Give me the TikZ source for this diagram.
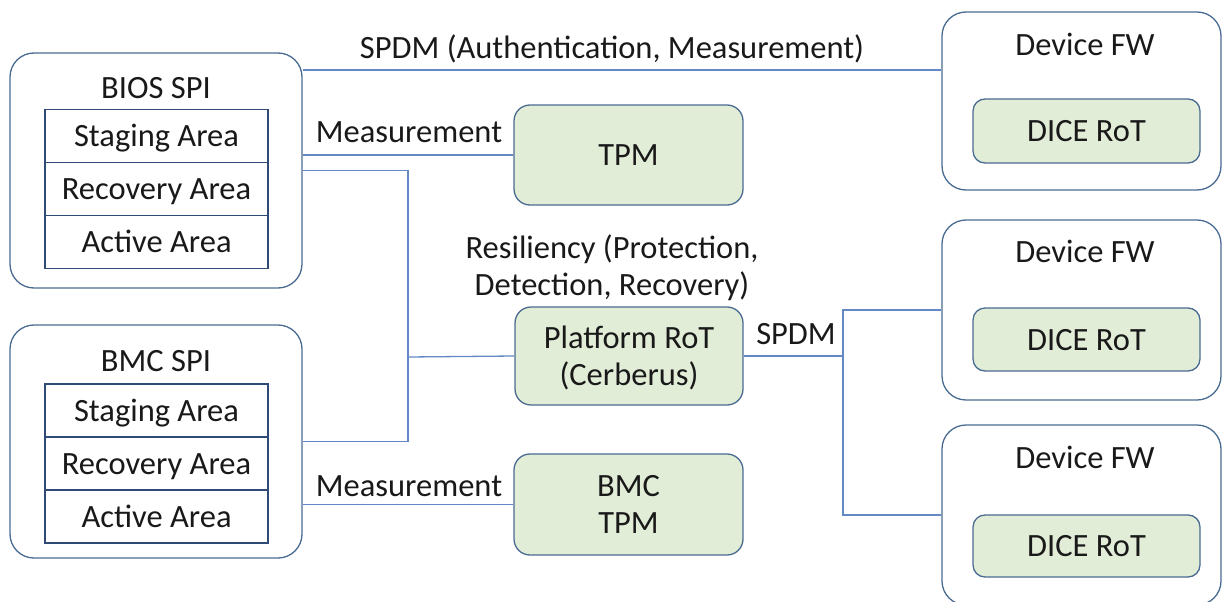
\documentclass[tikz,border=0pt]{standalone}
\usepackage{fontspec}
\setmainfont{Carlito}
\definecolor{boxline}{HTML}{4A6B91}
\definecolor{cellline}{HTML}{2E4A75}
\definecolor{wireblue}{HTML}{6388C4}
\definecolor{rotfill}{HTML}{E2EDD8}

\begin{document}
\begin{tikzpicture}[x=1pt, y=-1pt,
    font=\fontsize{32.5}{37}\selectfont, text=black!90,
    every node/.style={inner sep=0pt, text height=21pt, text depth=0pt},
    twolines/.style={align=center, text height=58pt},
    holder/.style={draw=boxline, line width=1.3pt, rounded corners=24pt},
    rotbox/.style={draw=boxline, fill=rotfill, line width=1.3pt, rounded corners=16pt},
    cell/.style={draw=cellline, line width=1.3pt, minimum width=223pt, minimum height=53pt},
    wire/.style={draw=wireblue, line width=1.3pt}]
    \path[use as bounding box] (0,0) rectangle (1223,602);
    \clip (0,0) rectangle (1223,602);

    \node (bios-spi) at (156,170.5) [holder, minimum width=292pt, minimum height=235pt] {};
    \node (bios-label) at (156,88) [] {BIOS SPI};
    \node (bios-staging) at (156.5,136) [cell] {Staging Area};
    \node (bios-recovery) at (156.5,189) [cell] {Recovery Area};
    \node (bios-active) at (156.5,242) [cell] {Active Area};

    \node (bmc-spi) at (156,441.5) [holder, minimum width=292pt, minimum height=233pt] {};
    \node (bmc-label) at (156,361) [] {BMC SPI};
    \node (bmc-staging) at (156.5,410.5) [cell] {Staging Area};
    \node (bmc-recovery) at (156.5,463.5) [cell] {Recovery Area};
    \node (bmc-active) at (156.5,516.5) [cell] {Active Area};

    \node (tpm) at (628.5,155) [rotbox, minimum width=229pt, minimum height=100pt] {TPM};
    \node (platform-rot) at (629,356) [rotbox, twolines, minimum width=228pt, minimum height=98pt] {Platform RoT\\(Cerberus)};
    \node (bmc-tpm) at (628.5,504.5) [rotbox, twolines, minimum width=229pt, minimum height=101pt] {BMC\\TPM};

    \node (dev1) at (1081.5,101) [holder, minimum width=279pt, minimum height=178pt] {};
    \node (dev1-label) at (1085,45) [] {Device FW};
    \node (dev1-dice) at (1086.5,131) [rotbox, rounded corners=12pt, minimum width=227pt, minimum height=64pt] {DICE RoT};

    \node (dev2) at (1081.5,310) [holder, minimum width=279pt, minimum height=180pt] {};
    \node (dev2-label) at (1085,252) [] {Device FW};
    \node (dev2-dice) at (1086.5,339.5) [rotbox, rounded corners=12pt, minimum width=227pt, minimum height=63pt] {DICE RoT};

    \node (dev3) at (1081.5,515) [holder, minimum width=279pt, minimum height=180pt] {};
    \node (dev3-label) at (1085,458) [] {Device FW};
    \node (dev3-dice) at (1086.5,546) [rotbox, rounded corners=12pt, minimum width=227pt, minimum height=62pt] {DICE RoT};

    \node (spdm-top-label) at (612,48) [] {SPDM (Authentication, Measurement)};
    \node (tpm-meas-label) at (409,132) [] {Measurement};
    \node (bmc-meas-label) at (409,486) [] {Measurement};
    \node (resiliency-label) at (612,266) [twolines] {Resiliency (Protection,\\Detection, Recovery)};
    \node (spdm-label) at (796,334) [] {SPDM};

    \coordinate (spdm-top) at (622,70);
    \coordinate (bus) at (408,357);
    \coordinate (spdm-split) at (843,356);

    \draw [wire] (bios-spi.east |- spdm-top) -- (dev1.west |- spdm-top);
    \draw [wire] (bios-spi.east |- tpm.west) -- (tpm.west);
    \draw [wire] (bios-spi.east) -| (bus) |- (bmc-spi.east);
    \draw [wire] (bus) -- (platform-rot.west);
    \draw [wire] (bmc-spi.east |- bmc-tpm.west) -- (bmc-tpm.west);
    \draw [wire] (platform-rot.east) -- (spdm-split);
    \draw [wire] (dev2.west) -| (spdm-split) |- (dev3.west);
  \end{tikzpicture}
\end{document}
